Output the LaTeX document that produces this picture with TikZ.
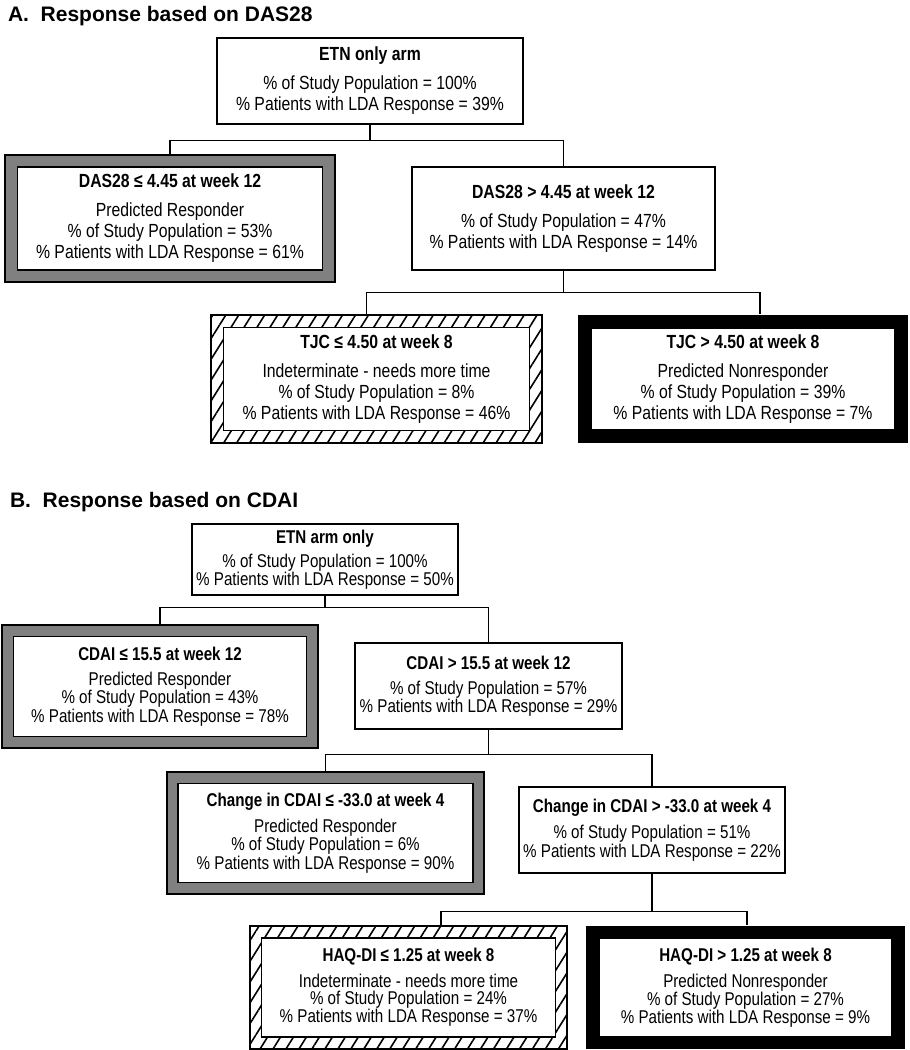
\documentclass[tikz,border=0pt]{standalone}
\usepackage{fontspec}
\setmainfont{Liberation Sans}
\newfontfamily\narrowA[FakeStretch=0.83]{Liberation Sans}
\newfontfamily\narrowB[FakeStretch=0.82]{Liberation Sans}
\usetikzlibrary{patterns.meta}
\definecolor{respgray}{RGB}{128,128,128}

\begin{document}
\begin{tikzpicture}[x=1pt,y=-1pt,
        line width=1.4pt,
        box/.style={draw, fill=white, line width=1.4pt, align=center, inner sep=0pt},
        boxA/.style={box, font=\narrowA\fontsize{19}{21}\selectfont},
        boxB/.style={box, font=\narrowB\fontsize{18.5}{17}\selectfont},
        respframe/.style={draw, fill=respgray, line width=1.2pt, inner sep=0pt},
        indetframe/.style={draw, line width=1.2pt, inner sep=0pt,
            pattern={Lines[angle=58,distance=11pt,line width=1.6pt]}},
        nonrespframe/.style={fill=black, inner sep=0pt},
        paneltitle/.style={anchor=base west, font=\bfseries\fontsize{21}{25}\selectfont}]
    \useasboundingbox (0,0) rectangle (910,1050);

    % A. DAS28
    \node[paneltitle] (titleA) at (4,21) {A.\ \ Response based on DAS28};

    \node[boxA, minimum width=306pt, minimum height=86pt] (etnA) at (370,81)
        {\textbf{ETN only arm}\\[8pt] \% of Study Population = 100\%\\ \% Patients with LDA Response = 39\%};

    \node[respframe, minimum width=330pt, minimum height=127pt] (dasle) at (170,218.5) {};
    \node[boxA, minimum width=305pt, minimum height=103pt] (dasleT) at (dasle)
        {\textbf{DAS28 ≤ 4.45 at week 12}\\[8pt] Predicted Responder\\ \% of Study Population = 53\%\\ \% Patients with LDA Response = 61\%};

    \node[boxA, minimum width=303pt, minimum height=103pt] (dasgt) at (563.5,218.5)
        {\textbf{DAS28 > 4.45 at week 12}\\[8pt] \% of Study Population = 47\%\\ \% Patients with LDA Response = 14\%};

    \node[indetframe, minimum width=331pt, minimum height=128pt] (tjcle) at (376.5,379) {};
    \node[boxA, minimum width=306pt, minimum height=103pt] (tjcleT) at (tjcle)
        {\textbf{TJC ≤ 4.50 at week 8}\\[8pt] Indeterminate - needs more time\\ \% of Study Population = 8\%\\ \% Patients with LDA Response = 46\%};

    \node[nonrespframe, minimum width=330pt, minimum height=128pt] (tjcgt) at (743,379) {};
    \node[boxA, minimum width=303pt, minimum height=102pt] (tjcgtT) at (tjcgt)
        {\textbf{TJC > 4.50 at week 8}\\[8pt] Predicted Nonresponder\\ \% of Study Population = 39\%\\ \% Patients with LDA Response = 7\%};

    \draw (dasle.north) -- ++(0,-14) coordinate (barA) -| (dasgt.north);
    \draw (etnA.south) -- (etnA.south |- barA);
    \draw ([xshift=-10pt]tjcle.north) -- ++(0,-22) coordinate (barAA) -| ([xshift=17pt]tjcgt.north);
    \draw (dasgt.south) -- (dasgt.south |- barAA);

    % B. CDAI
    \node[paneltitle] (titleB) at (6,507) {B.\ \ Response based on CDAI};

    \node[boxB, minimum width=266pt, minimum height=71pt] (etnB) at (325,559.5)
        {\textbf{ETN arm only}\\[6pt] \% of Study Population = 100\%\\ \% Patients with LDA Response = 50\%};

    \node[respframe, minimum width=316pt, minimum height=123pt] (cdaile) at (160,686.5) {};
    \node[boxB, minimum width=293pt, minimum height=100pt] (cdaileT) at (cdaile)
        {\textbf{CDAI ≤ 15.5 at week 12}\\[8pt] Predicted Responder\\ \% of Study Population = 43\%\\ \% Patients with LDA Response = 78\%};

    \node[boxB, minimum width=267pt, minimum height=86pt] (cdaigt) at (488.5,686)
        {\textbf{CDAI > 15.5 at week 12}\\[8pt] \% of Study Population = 57\%\\ \% Patients with LDA Response = 29\%};

    \node[respframe, minimum width=317pt, minimum height=122pt] (chle) at (325.5,833) {};
    \node[boxB, minimum width=295pt, minimum height=99pt] (chleT) at (chle)
        {\textbf{Change in CDAI ≤ -33.0 at week 4}\\[8pt] Predicted Responder\\ \% of Study Population = 6\%\\ \% Patients with LDA Response = 90\%};

    \node[boxB, minimum width=266pt, minimum height=86pt] (chgt) at (652,830)
        {\textbf{Change in CDAI > -33.0 at week 4}\\[8pt] \% of Study Population = 51\%\\ \% Patients with LDA Response = 22\%};

    \node[indetframe, minimum width=317pt, minimum height=123pt] (haqle) at (408.5,987.5) {};
    \node[boxB, minimum width=294pt, minimum height=99pt] (haqleT) at (haqle)
        {\textbf{HAQ-DI ≤ 1.25 at week 8}\\[8pt] Indeterminate - needs more time\\ \% of Study Population = 24\%\\ \% Patients with LDA Response = 37\%};

    \node[nonrespframe, minimum width=319pt, minimum height=123pt] (haqgt) at (745.5,987.5) {};
    \node[boxB, minimum width=292pt, minimum height=98pt] (haqgtT) at (haqgt)
        {\textbf{HAQ-DI > 1.25 at week 8}\\[8pt] Predicted Nonresponder\\ \% of Study Population = 27\%\\ \% Patients with LDA Response = 9\%};

    \draw (cdaile.north) -- ++(0,-17) coordinate (barB) -| (cdaigt.north);
    \draw (etnB.south) -- (etnB.south |- barB);
    \draw (chle.north) -- ++(0,-17) coordinate (barBB) -| (chgt.north);
    \draw (cdaigt.south) -- (cdaigt.south |- barBB);
    \draw ([xshift=32.5pt]haqle.north) -- ++(0,-14) coordinate (barBBB) -| ([xshift=1.5pt]haqgt.north);
    \draw (chgt.south) -- (chgt.south |- barBBB);
\end{tikzpicture}
\end{document}
